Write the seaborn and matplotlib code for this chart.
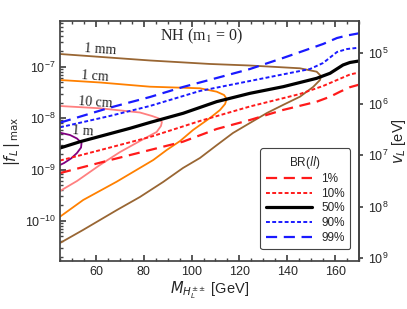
import numpy as np
import pandas as pd
import matplotlib
matplotlib.use('Agg')
import matplotlib.pyplot as plt
import seaborn as sns
from matplotlib.ticker import MultipleLocator, NullLocator, FixedLocator

# Масса H_L^{++} [GeV] и log10 |f_L|max для кривых BR(ll)
br_labels = ['1%', '10%', '50%', '90%', '99%']

m_br1 = [45, 65.9, 82.6, 96.4, 110.5, 124.4, 138.2, 152.3, 157.9, 162.1, 166.2, 170]
f_br1 = [-9.07, -8.817, -8.621, -8.459, -8.212, -8.037, -7.842, -7.681, -7.584, -7.486, -7.399, -7.35]

m_br10 = [45, 61.7, 82.6, 103.5, 124.4, 145.3, 155, 160.8, 166.2, 170]
f_br10 = [-8.826, -8.624, -8.368, -8.056, -7.774, -7.531, -7.375, -7.259, -7.152, -7.113]

m_br50 = [45, 53.4, 74.3, 82.6, 96.5, 110.5, 124.4, 138.4, 152.3, 157.9, 163.3, 166.2, 170]
f_br50 = [-8.582, -8.459, -8.198, -8.085, -7.906, -7.68, -7.518, -7.388, -7.226, -7.128, -6.967, -6.918, -6.889]

m_br90 = [45, 65.9, 82.6, 103.5, 128.6, 149.5, 155, 160.8, 165, 170]
f_br90 = [-8.179, -7.958, -7.764, -7.472, -7.239, -7.045, -6.928, -6.714, -6.656, -6.63]

m_br99 = [45, 65.9, 82.6, 96.4, 110.5, 124.4, 138.2, 146.6, 155, 160.8, 165, 170]
f_br99 = [-8.089, -7.796, -7.59, -7.395, -7.22, -7.045, -6.831, -6.695, -6.558, -6.442, -6.393, -6.35]

# Контуры длины распада (замкнутые слева "C"-образные кривые)
m_1mm = [45, 82.6, 107.7, 124.4, 145.3, 152.3, 154.1, 153.7, 150.8, 145.3, 138.2, 131.5,
         124.4, 117.3, 110.6, 103.5, 96.4, 88.1, 78.4, 68.8, 54.6, 45]
f_1mm = [-6.753, -6.879, -6.947, -6.977, -7.031, -7.097, -7.181, -7.259, -7.395, -7.584, -7.745,
         -7.901, -8.095, -8.29, -8.524, -8.776, -8.971, -9.243, -9.535, -9.788, -10.177, -10.43]

m_1cm = [45, 61.7, 82.6, 103.5, 110.5, 113.6, 114.7, 114.0, 111.9, 107.7, 100.6, 95.2, 89.6,
         84.0, 68.7, 54.7, 45]
f_1cm = [-7.259, -7.307, -7.389, -7.42, -7.486, -7.551, -7.628, -7.726, -7.842, -7.998, -8.232,
         -8.446, -8.621, -8.815, -9.237, -9.593, -9.918]

m_10cm = [45, 61.7, 78.4, 83.5, 86.4, 87.6, 87.2, 85.4, 78.4, 70.1, 61.7, 52.1, 45]
f_10cm = [-7.765, -7.809, -7.891, -7.959, -8.008, -8.076, -8.154, -8.27, -8.446, -8.66, -8.912,
          -9.224, -9.418]

m_1m = [45, 49.2, 52.1, 54.0, 53.8, 52.1, 49.6, 46.7, 45]
f_1m = [-8.284, -8.329, -8.397, -8.484, -8.572, -8.679, -8.786, -8.874, -8.912]

len_labels = ['1 mm', '1 cm', '10 cm', '1 m']
len_label_pos = [(61.7, -6.675), (59.6, -7.195), (59.6, -7.697), (54.4, -8.251)]

x_ticks = [60, 80, 100, 120, 140, 160]
f_ticks = [1e-10, 1e-9, 1e-8, 1e-7]
v_ticks = [1e5, 1e6, 1e7, 1e8, 1e9]

# Связь v_L с |f_L|max (правая ось)
C_V = 10 ** -1.724

sns.set_theme(style='ticks')
plt.rcParams['font.family'] = ['Liberation Sans', 'DejaVu Sans']
plt.rcParams['mathtext.fontset'] = 'dejavusans'

fig = plt.figure(figsize=(4.07, 3.09), dpi=100)
ax = fig.add_axes([60 / 407, 1 - 261 / 309, 299 / 407, 240 / 309])
ax.set_yscale('log')

frame = '#444444'

# Контуры длины распада
contours = [
    (m_1mm, f_1mm, '#996633'),
    (m_1cm, f_1cm, '#ff8000'),
    (m_10cm, f_10cm, '#ff8080'),
    (m_1m, f_1m, '#800080'),
]
for m, f, col in contours:
    sns.lineplot(x=m, y=10 ** np.array(f), sort=False, estimator=None,
                 color=col, lw=1.3, ax=ax)

# Кривые BR
br_series = [
    (m_br1, f_br1, '#ff1a1a', 1.6, (0, (5, 3))),
    (m_br10, f_br10, '#ff1a1a', 1.4, (0, (2, 1.2))),
    (m_br50, f_br50, 'black', 2.3, '-'),
    (m_br90, f_br90, '#1a1aff', 1.4, (0, (2, 1.2))),
    (m_br99, f_br99, '#1a1aff', 1.6, (0, (5, 3))),
]
handles = []
for (m, f, col, lw, ls), lab in zip(br_series, br_labels):
    sns.lineplot(x=m, y=10 ** np.array(f), sort=False, estimator=None,
                 color=col, lw=lw, linestyle=ls, ax=ax)
    handles.append(ax.lines[-1])

for lab, (xm, yl) in zip(len_labels, len_label_pos):
    ax.text(xm, 10 ** yl, lab, family='Liberation Serif', fontsize=10,
            ha='center', va='center', rotation=-4)

ax.text(0.475, 0.935, r'NH (m$_1$ = 0)', transform=ax.transAxes,
        family='Liberation Serif', fontsize=11.5, ha='center', va='center',
        math_fontfamily='stix')

ax.set_xlim(45, 170)
ax.set_ylim(10 ** -10.78, 10 ** -6.111)
ax.xaxis.set_major_locator(FixedLocator(x_ticks))
ax.xaxis.set_minor_locator(MultipleLocator(5))
ax.yaxis.set_major_locator(FixedLocator(f_ticks))
ax.tick_params(axis='both', which='both', direction='in', top=True, right=False,
               color=frame, labelsize=9)
ax.tick_params(which='major', length=4)
ax.tick_params(which='minor', length=2)
for s in ax.spines.values():
    s.set_color(frame)

ax.set_xlabel(r'$M_{H_L^{\pm\pm}}$ [GeV]', fontsize=10.5, labelpad=1)
ax.set_ylabel(r'$|f_L\,|_{\,\rm max}$', fontsize=10.5, labelpad=2)

sec = ax.secondary_yaxis('right', functions=(lambda f: C_V / f, lambda v: C_V / v))
sec.yaxis.set_major_locator(FixedLocator(v_ticks))
sec.yaxis.set_minor_locator(NullLocator())
sec.tick_params(direction='out', length=3, color=frame, labelsize=9)
sec.spines['right'].set_color(frame)
sec.set_ylabel(r'$v_L$ [eV]', fontsize=10.5, labelpad=1)

leg = ax.legend(handles, br_labels, title=r'BR($ll$)', loc='lower right',
                bbox_to_anchor=(0.97, 0.05), borderaxespad=0,
                fontsize=8.5, title_fontsize=8.5,
                frameon=True, fancybox=True, edgecolor=frame, framealpha=1,
                handlelength=3.9, labelspacing=0.22, borderpad=0.45)
leg.get_frame().set_linewidth(0.8)

fig.savefig('out.png', dpi=100)
